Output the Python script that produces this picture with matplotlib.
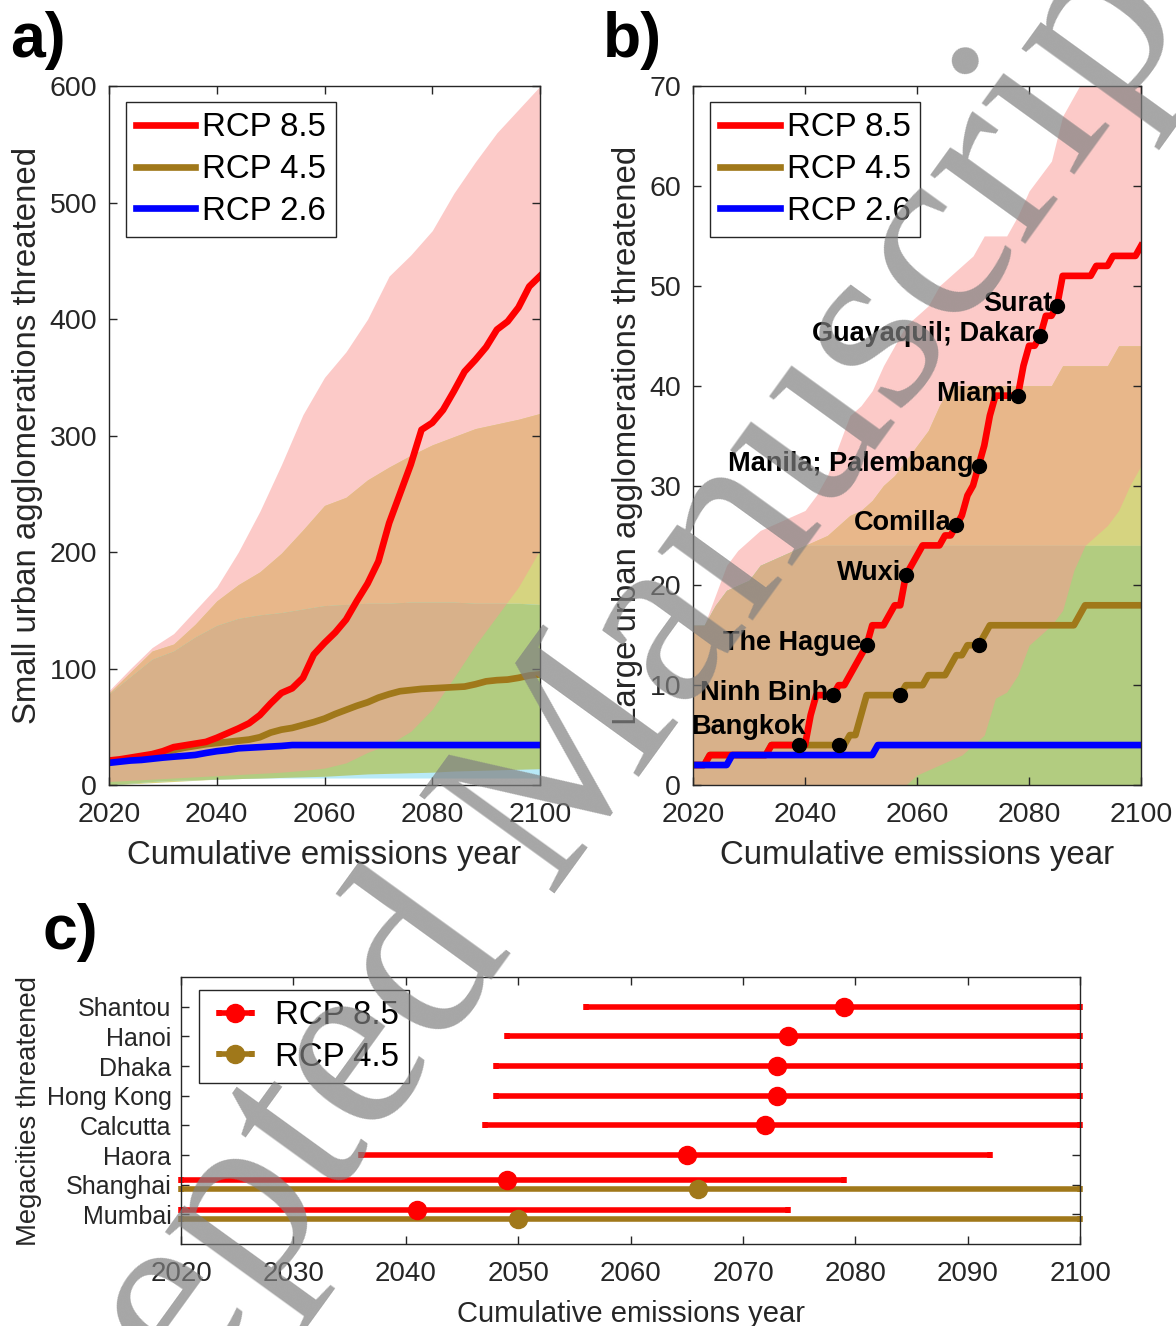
import matplotlib
matplotlib.use("Agg")
import matplotlib.pyplot as plt
import numpy as np

plt.rcParams['font.family'] = ['Liberation Sans', 'DejaVu Sans']

# ---------------- data: panel a (small agglomerations) ----------------
a_band_years = [2020, 2024, 2028, 2032, 2036, 2040, 2044, 2048, 2052, 2056, 2060,
                2064, 2068, 2072, 2076, 2080, 2084, 2088, 2092, 2096, 2100]
a_hi85 = [81, 100, 118, 130, 150, 170, 200, 235, 275, 318, 350,
          372, 400, 437, 455, 476, 508, 535, 560, 580, 600]
a_lo85 = [3, 4, 5, 6, 7, 8, 9, 10, 11, 12.5, 14.5,
          19, 28, 35, 46, 65, 92, 120, 145, 170, 202]
a_hi45 = [79, 97, 115, 121, 138, 158, 172, 183, 199, 219, 240,
          247, 262, 273, 283, 292, 299, 306, 310, 314, 319]
a_lo45 = [0, 1, 2, 3, 4, 5, 5.5, 6, 6.5, 7, 7.5,
          8.5, 9.5, 10, 10.5, 11, 12, 12.5, 13, 13.5, 14]
a_hi26 = [78, 93, 108, 115, 127, 137, 143, 146, 148, 151, 154,
          155, 156, 156, 157, 157, 157, 156, 156, 156, 155]
a_lo26 = [0, 1.5, 3, 4, 4.5, 5, 5.5, 6, 6, 6, 6,
          6, 6, 6, 6, 6, 6, 6, 6, 6, 6]

a_line_years = list(range(2020, 2101, 2))
a_rcp85 = [21, 22, 23.5, 25, 26.5, 29, 32.5, 34, 35.5, 37, 40.5,
           44.5, 48.5, 53, 60, 70, 79, 83, 92, 112, 122,
           131, 142, 158, 173, 192, 225, 250, 275, 305, 311,
           322, 338, 355, 365, 376, 391, 398, 410, 428, 437]
a_rcp45 = [20, 21, 22.5, 24, 25.5, 27.5, 30, 32, 33.5, 35, 36,
           37, 38, 39, 41, 45, 47.5, 49, 51.5, 54, 57,
           61, 64.5, 68, 71, 75, 78, 80.5, 81.5, 82.5, 83,
           83.5, 84, 84.5, 86.5, 89, 90, 90.5, 92, 94, 95]
a_rcp26 = [19, 20, 21, 21.5, 22.5, 23.5, 24.3, 25, 25.8, 27.5, 29,
           30, 31.5, 32, 32.5, 33, 33.5, 34.3, 34.3, 34.3, 34.3,
           34.3, 34.3, 34.3, 34.3, 34.3, 34.3, 34.3, 34.3, 34.3, 34.3,
           34.3, 34.3, 34.3, 34.3, 34.3, 34.3, 34.3, 34.3, 34.3, 34.3]

# ---------------- data: panel b (large agglomerations) ----------------
b_band_years = list(range(2020, 2101, 2))
b_hi85 = [16, 16, 19, 22, 23.5, 24.5, 25.5, 26, 26.5, 27, 27.5,
          29, 31, 34, 37, 38, 39.5, 42, 44, 46, 47,
          48, 50, 51, 52, 53, 55, 55, 55, 57, 59.5,
          61, 62.5, 67, 69, 71, 72, 73, 74, 75, 76]
b_lo85 = [0, 0, 0, 0, 0, 0, 0, 0, 0, 0, 0,
          0, 0, 0, 0, 0, 0, 0, 0, 0, 1,
          1.5, 2, 2.5, 3, 4, 5, 8.7, 9.3, 11, 14,
          15, 16, 17.5, 21.5, 24, 25, 26, 27.5, 30, 32]
b_hi45 = [16, 16, 18, 19.5, 20, 20.5, 22, 22.5, 23, 23.5, 24,
          24.5, 25, 26, 27, 27.5, 28.5, 30, 31, 32.5, 34,
          35.5, 38, 40, 40, 40, 40, 40, 40, 40, 40,
          40, 40, 42, 42, 42, 42, 42, 44, 44, 44]
b_lo45 = [0] * 41
b_hi26 = [16, 16, 18, 19.5, 20, 20.5, 22, 22.5, 23, 23.5, 24,
          24, 24, 24, 24, 24, 24, 24, 24, 24, 24,
          24, 24, 24, 24, 24, 24, 24, 24, 24, 24,
          24, 24, 24, 24, 24, 24, 24, 24, 24, 24]
b_lo26 = [0] * 41

b_line_years = list(range(2020, 2101))
b_rcp85 = [2, 2, 2, 3, 3, 3, 3, 3, 3, 3,
           3, 3, 3, 3, 4, 4, 4, 4, 4, 4,
           4, 7, 9, 9, 9, 9, 10, 10, 11, 12,
           13, 14, 16, 16, 16, 17, 18, 18, 21, 22,
           23, 24, 24, 24, 24, 25, 25, 26, 27, 29,
           30, 32, 34, 37, 39, 39, 39, 39, 39, 42,
           44, 44, 45, 47, 47, 48, 51, 51, 51, 51,
           51, 51, 52, 52, 52, 53, 53, 53, 53, 53, 54]
b_rcp45 = [2, 2, 2, 3, 3, 3, 3, 3, 3, 3,
           3, 3, 3, 3, 4, 4, 4, 4, 4, 4,
           4, 4, 4, 4, 4, 4, 4, 4, 5, 5,
           7, 9, 9, 9, 9, 9, 9, 9, 10, 10,
           10, 10, 11, 11, 11, 11, 12, 13, 13, 14,
           14, 14, 15, 16, 16, 16, 16, 16, 16, 16,
           16, 16, 16, 16, 16, 16, 16, 16, 16, 17,
           18, 18, 18, 18, 18, 18, 18, 18, 18, 18, 18]
b_rcp26 = [2, 2, 2, 2, 2, 2, 2, 3, 3, 3,
           3, 3, 3, 3, 3, 3, 3, 3, 3, 3,
           3, 3, 3, 3, 3, 3, 3, 3, 3, 3,
           3, 3, 3, 4, 4, 4, 4, 4, 4, 4,
           4, 4, 4, 4, 4, 4, 4, 4, 4, 4,
           4, 4, 4, 4, 4, 4, 4, 4, 4, 4,
           4, 4, 4, 4, 4, 4, 4, 4, 4, 4,
           4, 4, 4, 4, 4, 4, 4, 4, 4, 4, 4]

city_names = ['Bangkok', 'Ninh Binh', 'The Hague', 'Wuxi', 'Comilla',
              'Manila; Palembang', 'Miami', 'Guayaquil; Dakar', 'Surat']
city_years = [2039, 2045, 2051, 2058, 2067, 2071, 2078, 2082, 2085]
city_counts = [4, 9, 14, 21, 26, 32, 39, 45, 48]
city45_years = [2046, 2057, 2071]
city45_counts = [4, 9, 14]

# ---------------- data: panel c (megacities) ----------------
mega_names = ['Mumbai', 'Shanghai', 'Haora', 'Calcutta', 'Hong Kong',
              'Dhaka', 'Hanoi', 'Shantou']
mega85_mid = [2041, 2049, 2065, 2072, 2073, 2073, 2074, 2079]
mega85_lo = [2020, 2020, 2036, 2047, 2048, 2048, 2049, 2056]
mega85_hi = [2074, 2079, 2092, 2100, 2100, 2100, 2100, 2100]
mega45_names = ['Mumbai', 'Shanghai']
mega45_mid = [2050, 2066]
mega45_lo = [2020, 2020]
mega45_hi = [2100, 2100]

# ---------------- style ----------------
RED = '#FF0000'
BROWN = '#A0781A'
BLUE = '#0000FF'
PINK = '#FCCAC8'
ORANGE = '#E8B78A'
GREYTAN = '#D8B18A'
GREEN = '#B2CC80'
YELLOWGREEN = '#D6D480'
CYAN = '#B8EAF8'
AXCOL = '#262626'


def band(ax, x, lo, hi, color):
    lo = np.asarray(lo, float)
    hi = np.asarray(hi, float)
    ax.fill_between(x, lo, hi, where=hi > lo, interpolate=True,
                    color=color, lw=0)


def draw_bands(ax, x, lo85, hi85, lo45, hi45, lo26, hi26):
    x = np.asarray(x)
    band(ax, x, lo85, hi85, PINK)
    band(ax, x, lo45, hi45, YELLOWGREEN)
    band(ax, x, np.maximum(lo85, lo45), np.minimum(hi85, hi45), ORANGE)
    band(ax, x, lo26, hi26, CYAN)
    band(ax, x, np.maximum(lo26, lo45), np.minimum(hi26, hi45), GREEN)
    band(ax, x, np.maximum(np.maximum(lo26, lo45), lo85),
         np.minimum(np.minimum(hi26, hi45), hi85), GREYTAN)


def style_axes(ax, tick_size, xpad, ypad):
    for s in ax.spines.values():
        s.set_color(AXCOL)
        s.set_linewidth(1.0)
        s.set_zorder(5)
    ax.tick_params(direction='in', top=True, right=True, length=6,
                   width=1, color=AXCOL, labelcolor=AXCOL,
                   labelsize=tick_size)
    ax.tick_params(axis='x', pad=xpad)
    ax.tick_params(axis='y', pad=ypad)


fig = plt.figure(figsize=(11.76, 13.26), dpi=100)
ax_a = fig.add_axes([0.0927, 0.408, 0.3665, 0.527])
ax_b = fig.add_axes([0.5893, 0.408, 0.381, 0.527])
ax_c = fig.add_axes([0.154, 0.0618, 0.7645, 0.2013])

# panel a
draw_bands(ax_a, a_band_years, a_lo85, a_hi85, a_lo45, a_hi45, a_lo26, a_hi26)
l45, = ax_a.plot(a_line_years, a_rcp45, color=BROWN, lw=4.8)
l85, = ax_a.plot(a_line_years, a_rcp85, color=RED, lw=4.8)
l26, = ax_a.plot(a_line_years, a_rcp26, color=BLUE, lw=4.8)
ax_a.set_xlim(2020, 2100)
ax_a.set_ylim(0, 600)
ax_a.set_xticks(range(2020, 2101, 20))
ax_a.set_yticks(range(0, 601, 100))
ax_a.set_xlabel('Cumulative emissions year', fontsize=23.8, color=AXCOL, labelpad=9)
ax_a.set_ylabel('Small urban agglomerations threatened', fontsize=23.8,
                color=AXCOL, labelpad=5)
style_axes(ax_a, 20.5, 12, 8.5)

# panel b
draw_bands(ax_b, b_band_years, b_lo85, b_hi85, b_lo45, b_hi45, b_lo26, b_hi26)
ax_b.plot(b_line_years, b_rcp45, color=BROWN, lw=4.8)
ax_b.plot(b_line_years, b_rcp85, color=RED, lw=4.8)
ax_b.plot(b_line_years, b_rcp26, color=BLUE, lw=4.8)
ax_b.plot(city_years, city_counts, 'o', color='k', ms=10, zorder=6)
ax_b.plot(city45_years, city45_counts, 'o', color='k', ms=10, zorder=6)
for name, yr, cnt in zip(city_names, city_years, city_counts):
    if name == 'Bangkok':
        ax_b.text(yr + 1.2, cnt + 1.8, name, ha='right', va='center',
                  fontsize=19.5, fontweight='bold', zorder=7)
    else:
        ax_b.text(yr - 0.9, cnt + 0.2, name, ha='right', va='center',
                  fontsize=19.5, fontweight='bold', zorder=7)
ax_b.set_xlim(2020, 2100)
ax_b.set_ylim(0, 70)
ax_b.set_xticks(range(2020, 2101, 20))
ax_b.set_yticks(range(0, 71, 10))
ax_b.set_xlabel('Cumulative emissions year', fontsize=23.8, color=AXCOL, labelpad=9)
ax_b.set_ylabel('Large urban agglomerations threatened', fontsize=23.8,
                color=AXCOL, labelpad=5)
style_axes(ax_b, 20.5, 12, 8.5)

for ax in (ax_a, ax_b):
    leg = ax.legend([l85, l45, l26], ['RCP 8.5', 'RCP 4.5', 'RCP 2.6'],
                    loc='upper left', bbox_to_anchor=(0.039, 0.977),
                    borderaxespad=0, fontsize=23.8, handlelength=1.8,
                    handletextpad=0.2, labelspacing=0.33, borderpad=0.3,
                    fancybox=False, framealpha=1, edgecolor=AXCOL)
    leg.get_frame().set_linewidth(1.0)
    leg.set_zorder(8)

# panel c
ypos = np.arange(1, len(mega_names) + 1, dtype=float)
y85 = ypos.copy()
y45 = []
for i, name in enumerate(mega_names):
    if name in mega45_names:
        y85[i] += 0.15
        y45.append(ypos[i] - 0.15)
mid85 = np.array(mega85_mid)
mid45 = np.array(mega45_mid)
e85 = ax_c.errorbar(mid85, y85,
                    xerr=[mid85 - np.array(mega85_lo), np.array(mega85_hi) - mid85],
                    fmt='o', color=RED, ms=13, elinewidth=4, capsize=2.5,
                    capthick=4, label='RCP 8.5')
e45 = ax_c.errorbar(mid45, y45,
                    xerr=[mid45 - np.array(mega45_lo), np.array(mega45_hi) - mid45],
                    fmt='o', color=BROWN, ms=13, elinewidth=4, capsize=2.5,
                    capthick=4, label='RCP 4.5')
for cont in (e85, e45):
    for art in cont.lines[1] + cont.lines[2]:
        art.set_clip_on(False)
ax_c.set_xlim(2020, 2100)
ax_c.set_ylim(0, 9)
ax_c.set_xticks(range(2020, 2101, 10))
ax_c.set_yticks(ypos)
ax_c.set_yticklabels(mega_names)
ax_c.set_xlabel('Cumulative emissions year', fontsize=21, color=AXCOL, labelpad=9)
ax_c.set_ylabel('Megacities threatened', fontsize=19.8, color=AXCOL, labelpad=3)
style_axes(ax_c, 20, 12.5, 7)
ax_c.tick_params(axis='y', labelsize=18)
leg = ax_c.legend(loc='upper left', bbox_to_anchor=(0.02, 0.951),
                  borderaxespad=0, fontsize=23.8, handlelength=1.6,
                  handletextpad=0.4, labelspacing=0.33, borderpad=0.3,
                  fancybox=False, framealpha=1, edgecolor=AXCOL)
leg.get_frame().set_linewidth(1.0)

# panel letters
fig.text(38 / 1176, 1 - 40 / 1326, 'a)', fontsize=45, fontweight='bold',
         ha='center', va='center')
fig.text(632 / 1176, 1 - 40 / 1326, 'b)', fontsize=45, fontweight='bold',
         ha='center', va='center')
fig.text(70 / 1176, 1 - 932 / 1326, 'c)', fontsize=45, fontweight='bold',
         ha='center', va='center')

# watermark
fig.text(541 / 1176, 1 - 808 / 1326, 'Accepted Manuscript', rotation=54.1,
         fontsize=183, family='Liberation Serif', color='0.5', alpha=0.7,
         ha='center', va='center', zorder=20)

fig.savefig('out.png', dpi=100)
